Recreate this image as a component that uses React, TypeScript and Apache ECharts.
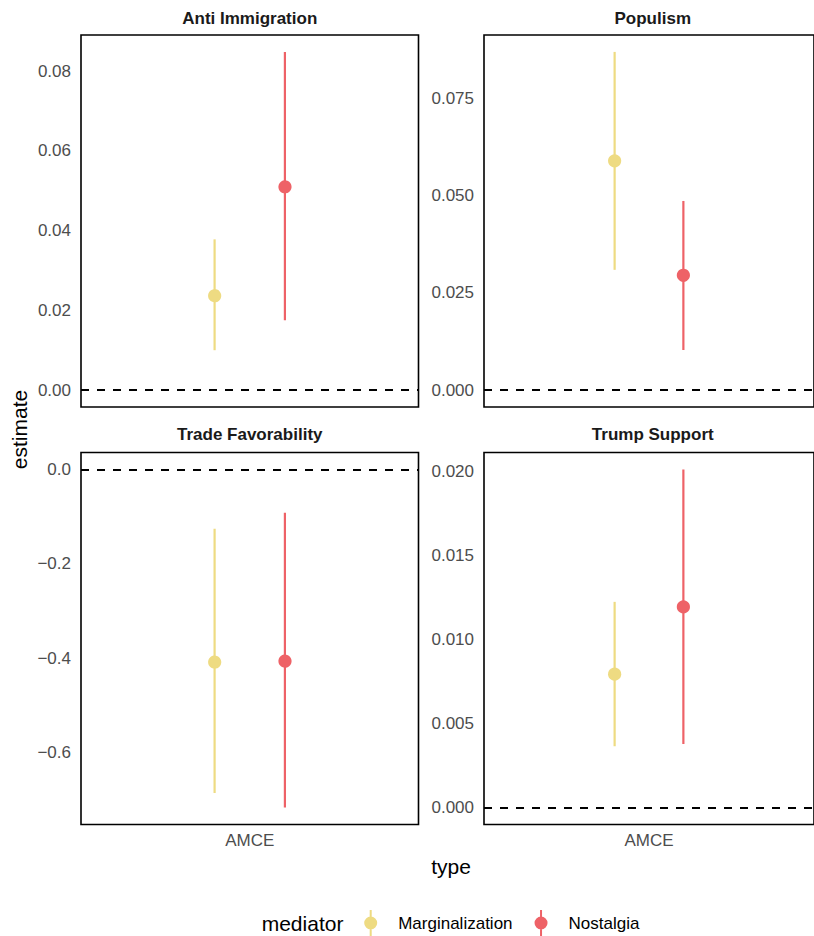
import { useEffect, useRef } from 'react';
import * as echarts from 'echarts';

// Facet panels (2 x 2, free y scales)
const panelTitles = ['Anti Immigration', 'Populism', 'Trade Favorability', 'Trump Support'];
const typeCategories = ['AMCE'];
const mediators = ['Marginalization', 'Nostalgia'];
const mediatorColors = ['#EEDB82', '#EE6267'];

// Point estimates and confidence bounds per panel
const marginalizationEstimate = [0.0239, 0.0589, -0.4057, 0.00794];
const marginalizationLower = [0.01, 0.0309, -0.685, 0.00365];
const marginalizationUpper = [0.0378, 0.0869, -0.1256, 0.01224];
const nostalgiaEstimate = [0.0512, 0.0295, -0.4036, 0.01194];
const nostalgiaLower = [0.0175, 0.0103, -0.716, 0.00379];
const nostalgiaUpper = [0.0848, 0.0486, -0.0916, 0.02012];

// Y tick spacing and label decimals per panel
const yTickSteps = [0.02, 0.025, 0.2, 0.005];
const yTickDecimals = [2, 3, 1, 3];
const referenceLine = 0;

const FONT = '"Liberation Sans", Arial, Helvetica, sans-serif';
const GRID_W = 337.5;
const GRID_H = 372;
const GRID_LEFT = [81, 484, 81, 484];
const GRID_TOP = [35, 35, 452.5, 452.5];
const DODGE = 0.25; // dodge width in discrete-axis units
const DISCRETE_SPAN = 1.2; // one level plus 0.6 expansion on each side

const estimates = [marginalizationEstimate, nostalgiaEstimate];
const lowers = [marginalizationLower, nostalgiaLower];
const uppers = [marginalizationUpper, nostalgiaUpper];

function fmt(v: number, d: number) {
  return v.toFixed(d).replace('-', '\u2212');
}

const legendIcon =
  'path://M5.5,0 L7.5,0 L7.5,26 L5.5,26 Z M0,13 A6.5,6.5 0 1,1 13,13 A6.5,6.5 0 1,1 0,13 Z';

export default function App() {
  const ref = useRef<HTMLDivElement>(null);

  useEffect(() => {
    if (!ref.current) return;
    const chart = echarts.init(ref.current, null, { renderer: 'svg' });

    const grid = panelTitles.map((_, p) => ({
      left: GRID_LEFT[p],
      top: GRID_TOP[p],
      width: GRID_W,
      height: GRID_H,
      show: true,
      borderColor: '#000',
      borderWidth: 1.6,
      backgroundColor: 'transparent',
      containLabel: false,
    }));

    const xAxis = panelTitles.map((_, p) => ({
      type: 'category',
      gridIndex: p,
      data: typeCategories,
      boundaryGap: true,
      axisLine: { show: false },
      axisTick: { show: false },
      splitLine: { show: false },
      axisLabel: {
        show: p >= 2,
        color: '#4D4D4D',
        fontSize: 17,
        fontFamily: FONT,
        margin: 7,
      },
    }));

    const yAxis = panelTitles.map((_, p) => {
      const lo = Math.min(referenceLine, lowers[0][p], lowers[1][p]);
      const hi = Math.max(referenceLine, uppers[0][p], uppers[1][p]);
      const pad = (hi - lo) * 0.05;
      return {
        type: 'value',
        gridIndex: p,
        min: lo - pad,
        max: hi + pad,
        minInterval: yTickSteps[p],
        maxInterval: yTickSteps[p],
        axisLine: { show: false },
        axisTick: { show: false },
        splitLine: { show: false },
        axisLabel: {
          color: '#4D4D4D',
          fontSize: 17,
          fontFamily: FONT,
          margin: 10,
          showMinLabel: false,
          showMaxLabel: false,
          formatter: (v: number) => fmt(v, yTickDecimals[p]),
        },
      };
    });

    const series: any[] = [];
    panelTitles.forEach((_, p) => {
      mediators.forEach((name, m) => {
        const color = mediatorColors[m];
        const shift = ((m === 0 ? -1 : 1) * DODGE) / 2 / DISCRETE_SPAN;
        series.push({
          type: 'custom',
          name,
          xAxisIndex: p,
          yAxisIndex: p,
          itemStyle: { color },
          encode: { x: 0, y: [1, 2, 3] },
          data: [[0, estimates[m][p], lowers[m][p], uppers[m][p]]],
          renderItem: (_params: any, api: any) => {
            const band = api.size([1, 0])[0];
            const c = api.coord([api.value(0), api.value(1)]);
            const bLo = api.coord([api.value(0), api.value(2)]);
            const bHi = api.coord([api.value(0), api.value(3)]);
            const x = c[0] + shift * band;
            return {
              type: 'group',
              children: [
                {
                  type: 'line',
                  shape: { x1: x, y1: bHi[1], x2: x, y2: bLo[1] },
                  style: { stroke: color, lineWidth: 2.2 },
                },
                {
                  type: 'circle',
                  shape: { cx: x, cy: c[1], r: 6.6 },
                  style: { fill: color },
                },
              ],
            };
          },
          markLine:
            m === 0
              ? {
                  silent: true,
                  symbol: ['none', 'none'],
                  label: { show: false },
                  lineStyle: { color: '#000', width: 1.8, type: [8, 8] },
                  emphasis: { disabled: true },
                  data: [{ yAxis: referenceLine }],
                }
              : undefined,
        });
      });
    });

    const stripY = [18.3, 18.3, 434.7, 434.7];
    const graphic: any[] = panelTitles.map((t, p) => ({
      type: 'text',
      x: GRID_LEFT[p] + GRID_W / 2,
      y: stripY[p],
      style: {
        text: t,
        font: `bold 17px ${FONT}`,
        fill: '#1A1A1A',
        textAlign: 'center',
        textVerticalAlign: 'middle',
        align: 'center',
        verticalAlign: 'middle',
      },
    }));
    graphic.push(
      {
        type: 'text',
        x: 19,
        y: 429.5,
        rotation: Math.PI / 2,
        style: {
          text: 'estimate',
          font: `21px ${FONT}`,
          fill: '#000',
          textAlign: 'center',
          textVerticalAlign: 'middle',
          align: 'center',
          verticalAlign: 'middle',
        },
      },
      {
        type: 'text',
        x: 451,
        y: 866,
        style: {
          text: 'type',
          font: `21px ${FONT}`,
          fill: '#000',
          textAlign: 'center',
          textVerticalAlign: 'middle',
          align: 'center',
          verticalAlign: 'middle',
        },
      },
      {
        type: 'text',
        x: 261.7,
        y: 923,
        style: {
          text: 'mediator',
          font: `21px ${FONT}`,
          fill: '#000',
          textAlign: 'left',
          textVerticalAlign: 'middle',
          align: 'left',
          verticalAlign: 'middle',
        },
      }
    );

    chart.setOption({
      animation: false,
      backgroundColor: '#fff',
      grid,
      xAxis,
      yAxis,
      series,
      graphic,
      legend: {
        left: 364.2,
        top: 910,
        padding: 0,
        orient: 'horizontal',
        itemWidth: 13,
        itemHeight: 26,
        itemGap: 22,
        selectedMode: false,
        icon: legendIcon,
        textStyle: {
          color: '#000',
          fontSize: 17,
          fontFamily: FONT,
          padding: [0, 0, 0, 16],
        },
        data: mediators.map((name, m) => ({
          name,
          itemStyle: { color: mediatorColors[m] },
        })),
      },
    });

    return () => chart.dispose();
  }, []);

  return (
    <div
      ref={ref}
      style={{ position: 'absolute', left: 0, top: 0, width: 814, height: 936 }}
    />
  );
}
